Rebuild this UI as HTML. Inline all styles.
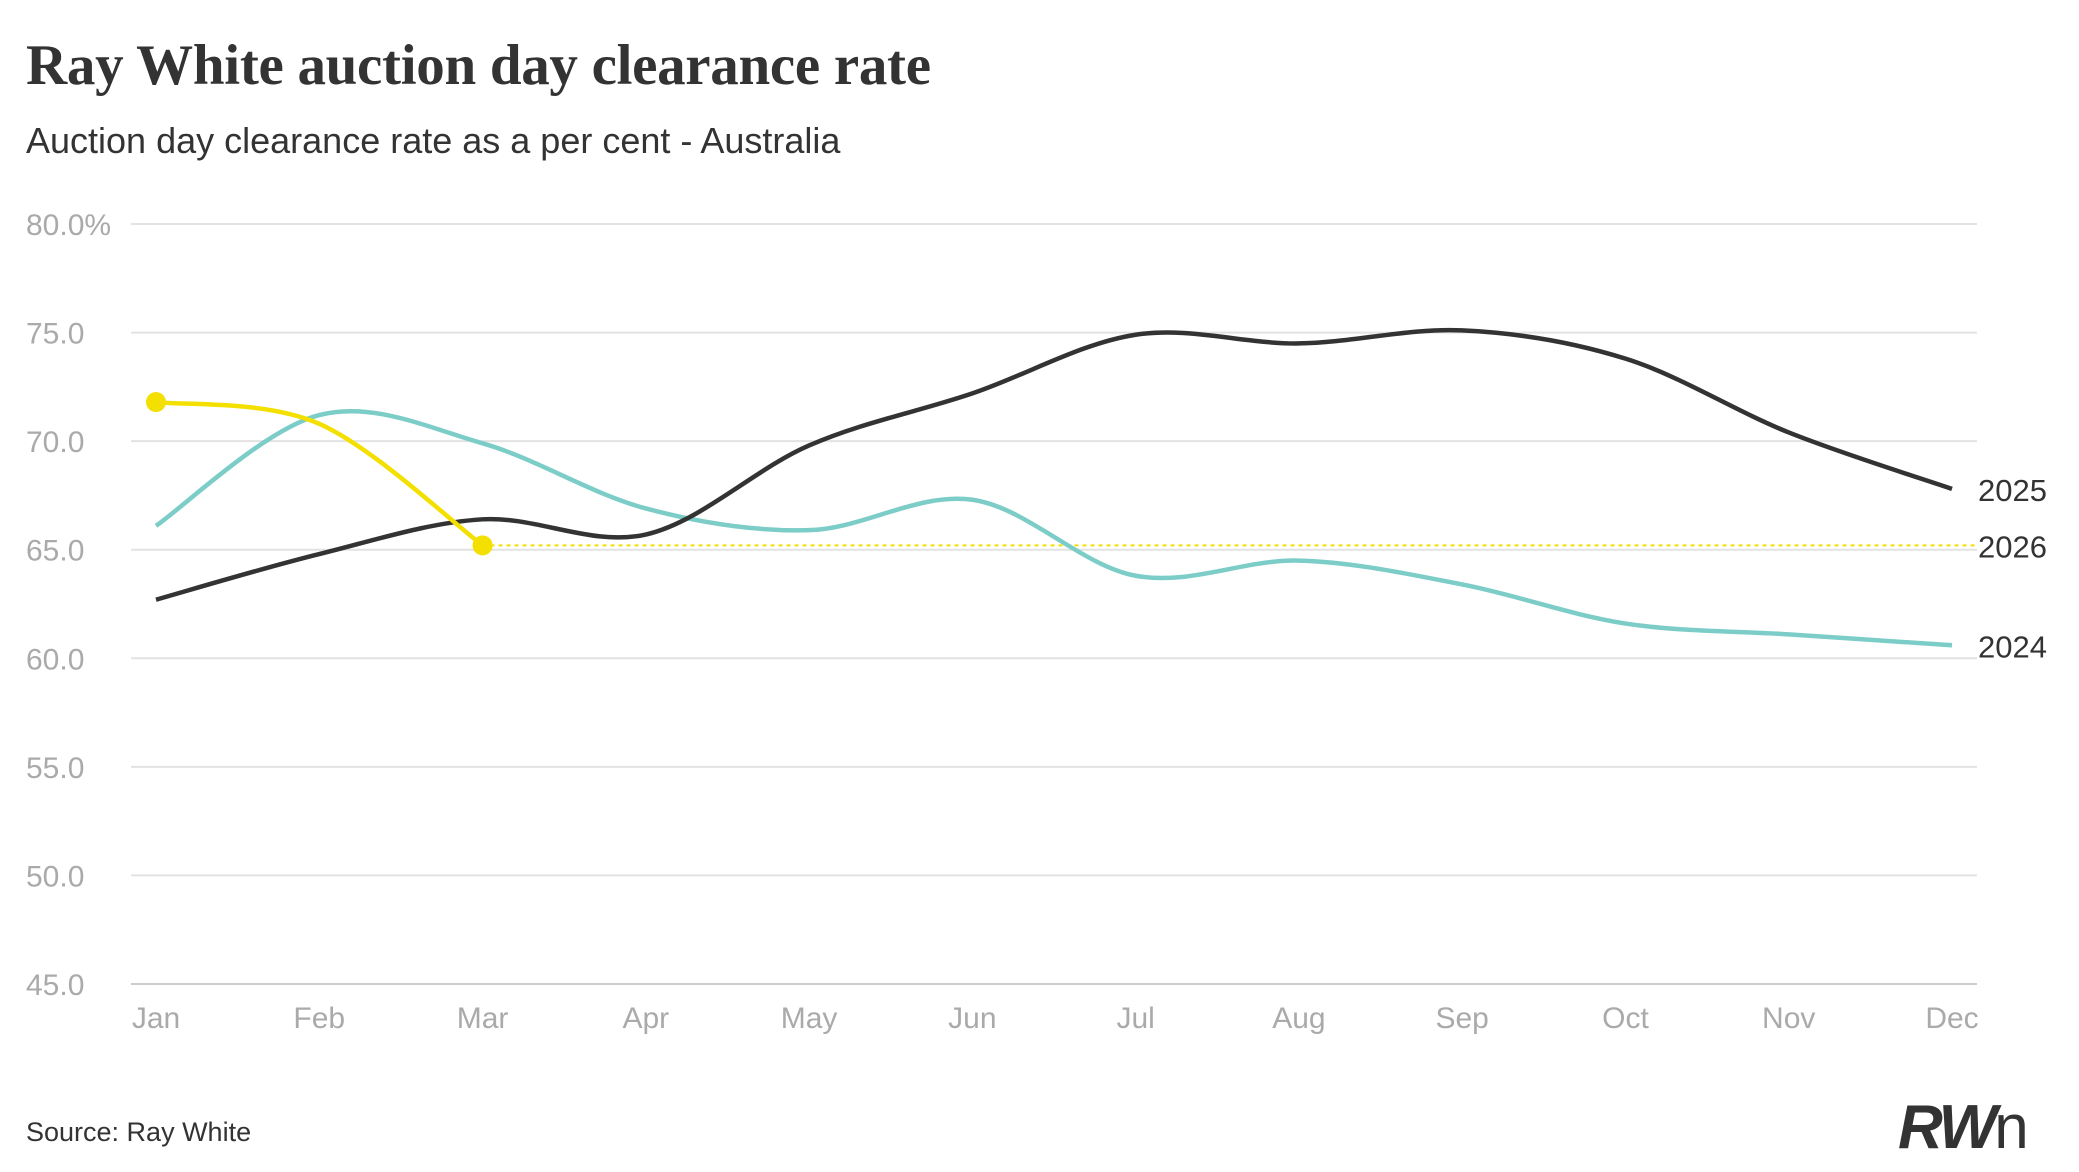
<!DOCTYPE html>
<html><head><meta charset="utf-8"><style>
body{margin:0;background:#fff;width:2079px;height:1167px;overflow:hidden;font-family:"Liberation Sans",sans-serif}
</style></head><body>
<svg id="chart" width="2079" height="1167" xmlns="http://www.w3.org/2000/svg">
<text x="26" y="84" font-family="Liberation Serif, serif" font-weight="bold" font-size="57" fill="#333" letter-spacing="-0.3">Ray White auction day clearance rate</text>
<text x="26" y="153" font-size="36" fill="#333">Auction day clearance rate as a per cent - Australia</text>
<g id="grid"></g><g id="series"></g>
<text x="26" y="1141" font-size="27" fill="#333">Source: Ray White</text>
<text x="1898" y="1148" font-size="62" font-weight="bold" font-style="italic" fill="#333" letter-spacing="-3">RW<tspan font-weight="normal" font-style="normal">n</tspan></text>
</svg>
<script>
const months=["Jan","Feb","Mar","Apr","May","Jun","Jul","Aug","Sep","Oct","Nov","Dec"];
const yTicks=[45,50,55,60,65,70,75,80];
const yTickLabels=["45.0","50.0","55.0","60.0","65.0","70.0","75.0","80.0%"];
const s2025=[62.7,64.8,66.4,65.7,69.8,72.2,74.9,74.5,75.1,73.8,70.4,67.8];
const s2024=[66.1,71.2,69.9,66.9,65.9,67.3,63.8,64.5,63.4,61.6,61.1,60.6];
const s2026=[71.8,70.8,65.2];
const NS="http://www.w3.org/2000/svg";
const x=i=>156+i*(1952-156)/11;
const y=v=>224+(80-v)*(984-224)/35;
function mk(t,a,p){const e=document.createElementNS(NS,t);for(const k in a)e.setAttribute(k,a[k]);p.appendChild(e);return e;}
const g=document.getElementById('grid'),s=document.getElementById('series');
yTicks.forEach((v,i)=>{
 const l=mk('line',{x1:131,x2:1977,y1:y(v),y2:y(v),stroke:i==0?'#ccc':'#e2e2e2','stroke-width':2},g);
 
 
 const t=mk('text',{x:26,y:y(v)+11,'font-size':30,fill:'#aaa'},g);t.textContent=yTickLabels[i];
 
 
});
months.forEach((m,i)=>{
 const t=mk('text',{x:x(i),y:1028,'font-size':30,fill:'#aaa','text-anchor':'middle'},g);t.textContent=m;
 
 
});
function path(vals){
 const P=vals.map((v,i)=>[x(i),y(v)]);let d='M'+P[0];
 for(let i=0;i<P.length-1;i++){const p0=P[i-1]||P[i],p1=P[i],p2=P[i+1],p3=P[i+2]||p2;
  const c1=[p1[0]+(p2[0]-p0[0])/6,p1[1]+(p2[1]-p0[1])/6],c2=[p2[0]-(p3[0]-p1[0])/6,p2[1]-(p3[1]-p1[1])/6];
  d+=' C'+c1+' '+c2+' '+p2;}
 return d;}
const d26=mk('line',{x1:x(2),x2:1977,y1:y(s2026[2]),y2:y(s2026[2]),stroke:'#f3e000','stroke-width':2,'stroke-dasharray':'4,4'},s);


[[s2024,'#7ccdc8','line-2024'],[s2025,'#333','line-2025'],[s2026,'#f3e000','line-2026']].forEach(([v,c,n])=>{
 const p=mk('path',{d:path(v),fill:'none',stroke:c,'stroke-width':4.5},s);
 
 
});
[0,2].forEach(i=>{const c=mk('circle',{cx:x(i),cy:y(s2026[i]),r:10,fill:'#f3e000'},s);
 
 });
[['2025',s2025[11]],['2026',s2026[2]],['2024',s2024[11]]].forEach(([n,v])=>{
 const t=mk('text',{x:1978,y:y(v)+12,'font-size':31,fill:'#333'},s);t.textContent=n;
 
 
});
</script>
</body></html>
